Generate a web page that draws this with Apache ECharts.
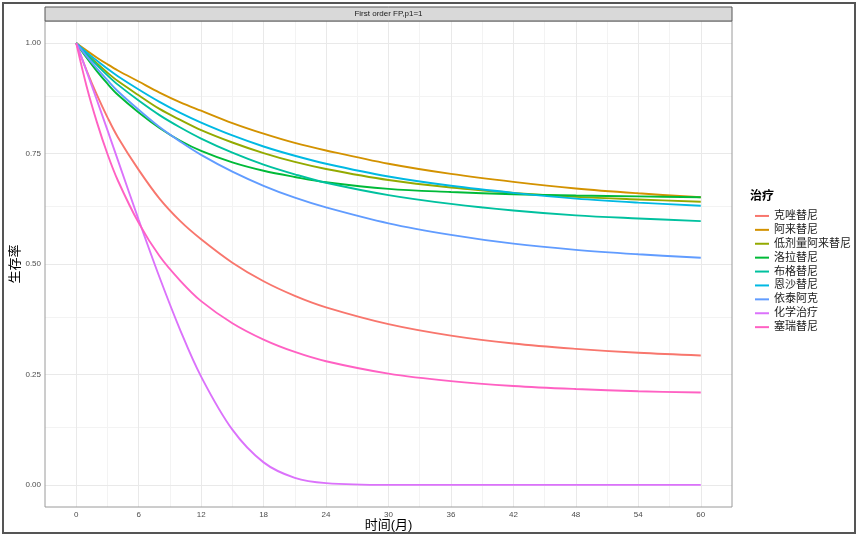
<!DOCTYPE html>
<html><head><meta charset="utf-8">
<script src="https://cdn.jsdelivr.net/npm/echarts@6/dist/echarts.min.js"></script>
<style>html,body{margin:0;padding:0;background:#fff}#c{width:865px;height:541px}</style>
</head><body><div id="c"></div>
<script>
// ---- data ----
const months = [0, 1, 2, 3, 4, 6, 8, 10, 12, 15, 18, 21, 24, 30, 36, 42, 48, 54, 60];
const seriesNames = ['克唑替尼','阿来替尼','低剂量阿来替尼','洛拉替尼','布格替尼','恩沙替尼','依泰阿克','化学治疗','塞瑞替尼'];
const crizotinib   = [1, 0.938, 0.882, 0.832, 0.787, 0.713, 0.648, 0.597, 0.556, 0.503, 0.461, 0.428, 0.402, 0.364, 0.338, 0.320, 0.308, 0.299, 0.293];
const alectinib    = [1, 0.983, 0.967, 0.952, 0.938, 0.913, 0.888, 0.866, 0.847, 0.819, 0.795, 0.774, 0.757, 0.727, 0.704, 0.686, 0.671, 0.660, 0.651];
const lowAlectinib = [1, 0.976, 0.954, 0.933, 0.914, 0.882, 0.851, 0.826, 0.803, 0.775, 0.751, 0.731, 0.715, 0.690, 0.673, 0.661, 0.652, 0.646, 0.641];
const lorlatinib   = [1, 0.967, 0.936, 0.908, 0.883, 0.843, 0.808, 0.779, 0.756, 0.730, 0.711, 0.697, 0.685, 0.670, 0.663, 0.658, 0.655, 0.653, 0.651];
const brigatinib   = [1, 0.974, 0.950, 0.927, 0.906, 0.870, 0.837, 0.809, 0.784, 0.752, 0.725, 0.703, 0.684, 0.656, 0.636, 0.621, 0.610, 0.603, 0.597];
const ensartinib   = [1, 0.979, 0.960, 0.942, 0.925, 0.895, 0.867, 0.842, 0.820, 0.791, 0.766, 0.745, 0.727, 0.698, 0.677, 0.661, 0.648, 0.639, 0.632];
const iruplinalkib = [1, 0.970, 0.942, 0.916, 0.891, 0.849, 0.810, 0.777, 0.747, 0.709, 0.677, 0.650, 0.628, 0.592, 0.566, 0.546, 0.532, 0.522, 0.514];
const chemo        = [1, 0.936, 0.870, 0.803, 0.735, 0.600, 0.470, 0.350, 0.245, 0.125, 0.051, 0.016, 0.004, 0.000, 0.000, 0.000, 0.000, 0.000, 0.000];
const ceritinib    = [1, 0.902, 0.820, 0.749, 0.689, 0.593, 0.518, 0.462, 0.416, 0.366, 0.329, 0.301, 0.280, 0.252, 0.235, 0.224, 0.217, 0.212, 0.209];
const xTicks = [0, 6, 12, 18, 24, 30, 36, 42, 48, 54, 60];
const xMinor = [3, 9, 15, 21, 27, 33, 39, 45, 51, 57];
const yTicks = [0, 0.25, 0.5, 0.75, 1];
const yMinor = [0.125, 0.375, 0.625, 0.875];
const colors = ['#F8766D','#D39200','#93AA00','#00BA38','#00C19F','#00B9E3','#619CFF','#DB72FB','#FF61C3'];
const allValues = [crizotinib, alectinib, lowAlectinib, lorlatinib, brigatinib, ensartinib, iruplinalkib, chemo, ceritinib];

const FONT = '"Liberation Sans", "Noto Sans CJK SC", sans-serif';
const chart = echarts.init(document.getElementById('c'), null, {renderer: 'canvas'});

const minorStyle = {color: '#f3f3f3', width: 1, type: 'solid'};
const majorStyle = {color: '#e9e9e9', width: 1, type: 'solid'};
const gridMarks = [];
xMinor.forEach(v => gridMarks.push({xAxis: v, lineStyle: minorStyle}));
yMinor.forEach(v => gridMarks.push({yAxis: v, lineStyle: minorStyle}));
xTicks.forEach(v => gridMarks.push({xAxis: v, lineStyle: majorStyle}));
yTicks.forEach(v => gridMarks.push({yAxis: v, lineStyle: majorStyle}));

const series = [{
  name: '_grid', type: 'line', data: [], silent: true, z: 1,
  markLine: { silent: true, symbol: ['none','none'], label: {show: false}, animation: false, z: 1,
    lineStyle: {type: 'solid'}, emphasis: {disabled: true}, data: gridMarks }
}];
seriesNames.forEach((n, i) => {
  series.push({
    name: n, type: 'line', showSymbol: false, smooth: 0.35, z: 3,
    lineStyle: {width: 1.9, color: colors[i]}, itemStyle: {color: colors[i]},
    data: months.map((m, k) => [m, allValues[i][k]])
  });
});

chart.setOption({
  animation: false,
  textStyle: {fontFamily: FONT},
  grid: {left: 45, right: 133, top: 21, bottom: 34, containLabel: false, outerBoundsMode: 'none'},
  xAxis: {
    type: 'value', min: -3, max: 63, interval: 3,
    name: '时间(月)', nameLocation: 'middle', nameGap: 12, nameMoveOverlap: false,
    nameTextStyle: {fontSize: 13, color: '#000', fontFamily: FONT},
    axisLine: {show: false},
    axisTick: {show: true, length: 3, customValues: xTicks, lineStyle: {color: '#333'}},
    axisLabel: {customValues: xTicks, fontSize: 8, color: '#4d4d4d', margin: 4,
      formatter: v => (v % 6 === 0 && v >= 0 && v <= 60) ? String(v) : ''},
    splitLine: {show: false}
  },
  yAxis: {
    type: 'value', min: -0.05, max: 1.05,
    name: '生存率', nameLocation: 'middle', nameGap: 23, nameRotate: 90, nameMoveOverlap: false,
    nameTextStyle: {fontSize: 13, color: '#000', fontFamily: FONT},
    axisLine: {show: false},
    axisTick: {show: true, length: 3, customValues: yTicks, lineStyle: {color: '#333'}},
    axisLabel: {customValues: yTicks, fontSize: 8, color: '#4d4d4d', margin: 4, formatter: v => v.toFixed(2)},
    splitLine: {show: false}
  },
  legend: {
    data: seriesNames, orient: 'vertical', left: 750, top: 204,
    icon: 'rect', itemWidth: 14, itemHeight: 2, itemGap: 0,
    textStyle: {fontSize: 11, color: '#1a1a1a', lineHeight: 13.9, fontFamily: FONT}
  },
  graphic: [
    {type: 'rect', shape: {x: 45, y: 21, width: 687, height: 486}, style: {fill: 'none', stroke: '#9a9a9a', lineWidth: 1}, z: 10, silent: true},
    {type: 'rect', shape: {x: 45, y: 7, width: 687, height: 14}, style: {fill: '#d9d9d9', stroke: '#555', lineWidth: 1}, z: 10, silent: true},
    {type: 'text', x: 388.5, y: 14, style: {text: 'First order FP,p1=1', font: '8px ' + FONT, fill: '#1a1a1a', textAlign: 'center', textVerticalAlign: 'middle'}, z: 11},
    {type: 'text', x: 750, y: 197, style: {text: '治疗', font: 'bold 12px ' + FONT, fill: '#000', textAlign: 'left', textVerticalAlign: 'middle'}, z: 11},
    {type: 'rect', shape: {x: 3, y: 3, width: 852, height: 530}, style: {fill: 'none', stroke: '#555', lineWidth: 2}, z: 12, silent: true}
  ],
  series: series
});
</script></body></html>
